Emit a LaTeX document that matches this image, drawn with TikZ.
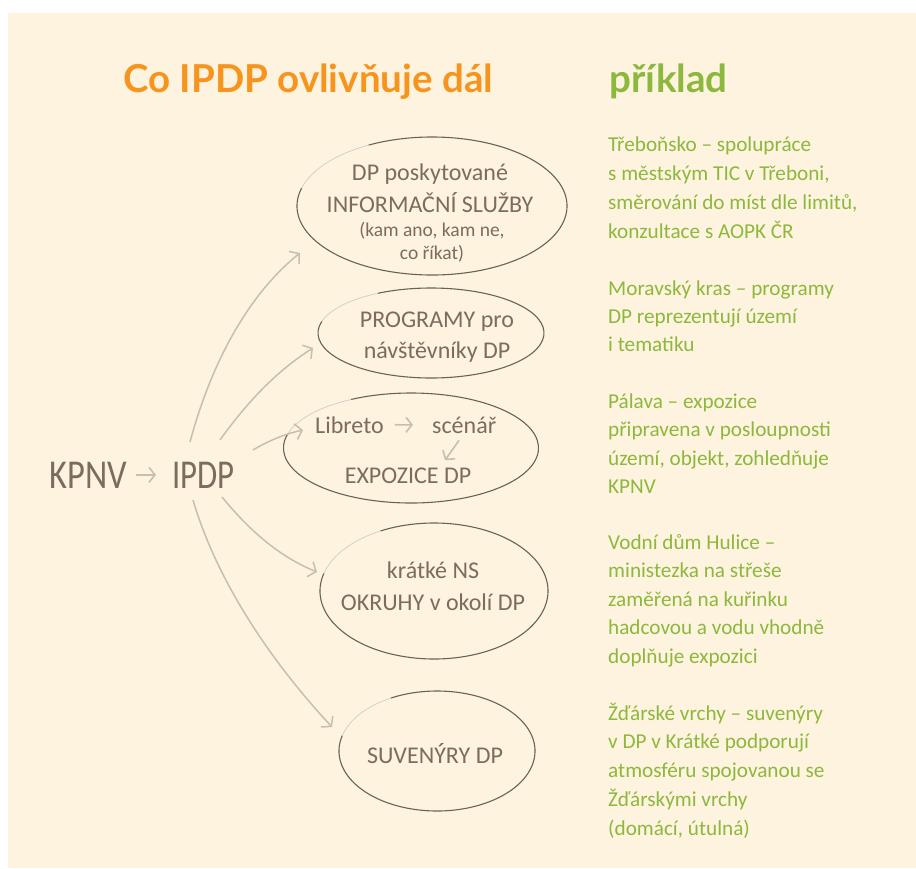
\documentclass[tikz,border=0pt]{standalone}
\usepackage{fontspec}
\setmainfont{Carlito}
\newfontfamily\titlefont{Lato}
\usetikzlibrary{arrows.meta,calc,shapes.geometric}
\definecolor{bgcream}{HTML}{FEF3DE}
\definecolor{titleorange}{HTML}{F7941E}
\definecolor{leafgreen}{HTML}{8DB83E}
\definecolor{inkbrown}{HTML}{7D6B60}
\definecolor{ellbrown}{HTML}{6E6057}
\definecolor{arrowgray}{HTML}{C8BEAF}
\tikzset{
  ttl/.style={font=\titlefont\bfseries\fontsize{38.5}{40}\selectfont, inner sep=0, anchor=base west},
  rt/.style={text=leafgreen, font=\fontsize{21.2}{24}\selectfont, inner sep=0, anchor=base west},
  bt/.style={text=inkbrown, font=\fontsize{24}{28}\selectfont, inner sep=0, anchor=base},
  sbt/.style={text=inkbrown, font=\fontsize{19.5}{22}\selectfont, inner sep=0, anchor=base},
  big/.style={text=inkbrown, font=\fontsize{41}{44}\selectfont, inner sep=0},
  ov/.style={ellipse, inner sep=0, draw=none},
  ellline/.style={draw=ellbrown, line width=1.1pt},
  ellfaint/.style={draw=ellbrown!30, line width=0.8pt},
  arr/.style={draw=arrowgray, line width=1.5pt, -{Straight Barb[length=6.5pt,width=16pt]}},
  sarr/.style={draw=arrowgray, line width=1.6pt, -{Straight Barb[length=6pt,width=15pt]}},
}
\newcommand\handoval[3]{%
  \draw[ellline] ([shift={(165:#2 and #3)}]#1.center) arc[start angle=165,end angle=478,x radius=#2,y radius=#3];
  \draw[ellfaint] ([shift={(118:#2 and #3)}]#1.center) arc[start angle=118,end angle=165,x radius=#2,y radius=#3];}
\begin{document}
\begin{tikzpicture}[x=1pt,y=1pt]
\useasboundingbox (0,0) rectangle (916,-869);
\fill[white] (0,0) rectangle (916,-869);
\fill[bgcream] (8,-13) rectangle (916,-868);

% titles
\node[ttl, text=titleorange] (title) at (123,-93) {Co IPDP ovlivňuje dál};
\node[ttl, text=leafgreen] (example) at (609,-93) {příklad};

% left
\node[big, anchor=base east] (kpnv) at (127,-488) {\scalebox{0.84}[1]{KPNV}};
\node[big, anchor=base west] (ipdp) at (172,-488) {\scalebox{0.8}[1]{IPDP}};
\draw[sarr, shorten <=9pt, shorten >=16pt] (kpnv.east) -- (ipdp.west);

% ovals
\node[ov, minimum width=270, minimum height=138] (e1) at (432,-206) {};
\node[ov, minimum width=226, minimum height=90] (e2) at (431,-333) {};
\node[ov, minimum width=255, minimum height=110] (e3) at (411,-448) {};
\node[ov, minimum width=228, minimum height=136] (e4) at (434,-591) {};
\node[ov, minimum width=196, minimum height=120] (e5) at (437,-751) {};
\handoval{e1}{135}{69}
\handoval{e2}{113}{45}
\handoval{e3}{127.5}{55}
\handoval{e4}{114}{68}
\handoval{e5}{98}{60}

% oval texts
\node[bt] (e1a) at (430,-181) {DP poskytované};
\node[bt] (e1b) at (430,-213) {INFORMAČNÍ SLUŽBY};
\node[sbt] (e1c) at (432,-237) {(kam ano, kam ne,};
\node[sbt] (e1d) at (432,-260) {co říkat)};
\node[bt] (e2a) at (437,-327) {PROGRAMY pro};
\node[bt] (e2b) at (437,-358) {návštěvníky DP};
\node[bt, anchor=base west] (libreto) at (315,-433) {Libreto};
\node[bt, anchor=base west] (scenar) at (432,-433) {scénář};
\node[bt] (expo) at (408,-483) {EXPOZICE DP};
\draw[sarr, shorten <=11pt, shorten >=19pt] (libreto.east) -- (scenar.west);
\draw[sarr] ([xshift=27,yshift=-7]scenar.south west) -- ([xshift=37,yshift=7]expo.north);
\node[bt] (e4a) at (433,-578) {krátké NS};
\node[bt] (e4b) at (433,-610) {OKRUHY v okolí DP};
\node[bt] (e5a) at (435,-763) {SUVENÝRY DP};

% fan of arrows
\coordinate (s1) at (190,-442);
\coordinate (s2) at (220,-440);
\coordinate (s3) at (253,-450);
\coordinate (s4) at (222,-497);
\coordinate (s5) at (193,-500);
\coordinate (t1) at ($(e1.center)+(-132,-47)$);
\coordinate (t2) at ($(e2.center)+(-118,-15)$);
\coordinate (t3) at ($(e3.center)+(-108,18)$);
\coordinate (t4) at ($(e4.center)+(-117,19)$);
\coordinate (t5) at ($(e5.center)+(-105,24)$);
\draw[arr] (s1) .. controls (212,-360) and (250,-293) .. (t1);
\draw[arr] (s2) .. controls (245,-405) and (275,-372) .. (t2);
\draw[arr] (s3) .. controls (270,-440) and (285,-434) .. (t3);
\draw[arr] (s4) .. controls (245,-525) and (275,-555) .. (t4);
\draw[arr] (s5) .. controls (215,-575) and (265,-655) .. (t5);

% right column
\foreach \t [count=\i] in {{Třeboňsko – spolupráce},{s městským TIC v Třeboni,},{směrování do míst dle limitů,},{konzultace s AOPK ČR}}
  \node[rt] (ra\i) at (608,{-151.7-(\i-1)*28.9}) {\t};
\foreach \t [count=\i] in {{Moravský kras – programy},{DP reprezentují území},{i tematiku}}
  \node[rt] (rb\i) at (608,{-295-(\i-1)*28.4}) {\t};
\foreach \t [count=\i] in {{Pálava – expozice},{připravena v posloupnosti},{území, objekt, zohledňuje},{KPNV}}
  \node[rt] (rc\i) at (608,{-408.3-(\i-1)*28.4}) {\t};
\foreach \t [count=\i] in {{Vodní dům Hulice –},{ministezka na střeše},{zaměřená na kuřinku},{hadcovou a vodu vhodně},{doplňuje expozici}}
  \node[rt] (rd\i) at (608,{-549.3-(\i-1)*28.5}) {\t};
\foreach \t [count=\i] in {{Žďárské vrchy – suvenýry},{v DP v Krátké podporují},{atmosféru spojovanou se},{Žďárskými vrchy},{(domácí, útulná)}}
  \node[rt] (re\i) at (608,{-720-(\i-1)*28.75}) {\t};
\end{tikzpicture}
\end{document}
